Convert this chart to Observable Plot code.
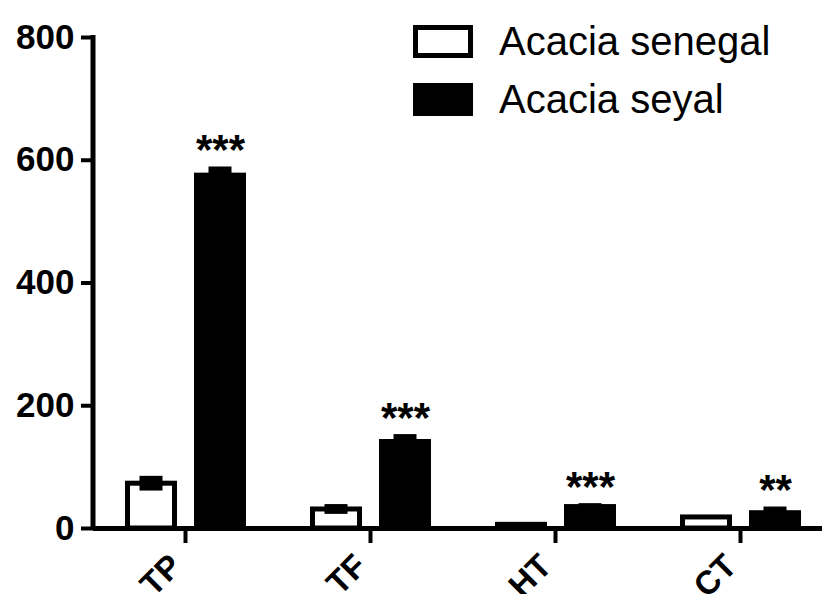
<!DOCTYPE html>
<html>
<head>
<meta charset="utf-8">
<script src="https://cdn.jsdelivr.net/npm/d3@7"></script>
<script src="https://cdn.jsdelivr.net/npm/@observablehq/plot@0.6"></script>
<style>
  body { margin: 0; background: white; }
  #wrap { position: relative; width: 822px; height: 594px; overflow: hidden; }
  #legend { position: absolute; left: 413px; top: 25px; font-family: "Liberation Sans", Arial, sans-serif; font-size: 40px; color: black; }
  .item { position: absolute; left: 0; white-space: nowrap; }
  .sw { position: absolute; left: 0; width: 60px; height: 33px; box-sizing: border-box; border: 5px solid black; }
  .lab { position: absolute; left: 86px; line-height: 40px; }
</style>
</head>
<body>
<div id="wrap"></div>
<script>
const categories = ["TP", "TF", "HT", "CT"];
const series = ["Acacia senegal", "Acacia seyal"];
const senegalMean = [73, 31, 6, 18];
const senegalErr = [12, 8, 1, 1];
const seyalMean = [579, 145, 39, 29];
const seyalErr = [10, 8, 1.5, 6];
const stars = ["***", "***", "***", "**"];
const yTicks = [0, 200, 400, 600, 800];

const senegal = categories.map((c, i) => ({cat: c, series: series[0], value: senegalMean[i], err: senegalErr[i]}));
const seyal = categories.map((c, i) => ({cat: c, series: series[1], value: seyalMean[i], err: seyalErr[i], star: stars[i]}));
const all = senegal.concat(seyal);

const plot = Plot.plot({
  width: 822,
  height: 594,
  marginLeft: 93,
  marginRight: -11,
  marginTop: 37,
  marginBottom: 66,
  style: {fontFamily: "Liberation Sans, Arial, sans-serif", background: "white", color: "black"},
  fx: {domain: categories, padding: 0, label: null},
  x: {domain: series, paddingInner: 0.246, paddingOuter: 0.46, axis: null},
  y: {domain: [0, 800], axis: null},
  marks: [
    Plot.barY(senegal, {fx: "cat", x: "series", y: "value", fill: "white", stroke: "black", strokeWidth: 5, insetLeft: 2.5, insetRight: 2.5}),
    Plot.barY(seyal, {fx: "cat", x: "series", y: "value", fill: "black"}),
    Plot.barY(all, {fx: "cat", x: "series", y1: d => d.value - d.err, y2: d => d.value + d.err, fill: "black", insetLeft: 14.5, insetRight: 14.5}),
    Plot.text(seyal, {fx: "cat", x: "series", y: d => d.value + d.err, text: "star", lineAnchor: "bottom", dy: -3, fontSize: 42, fontWeight: "bold", fill: "black"}),
    Plot.ruleY([0], {stroke: "black", strokeWidth: 5}),
    Plot.axisY({ticks: yTicks, tickSize: 12, tickPadding: 7, fontSize: 35, fontWeight: "bold", strokeWidth: 4, label: null}),
    Plot.axisFx({anchor: "bottom", tickRotate: -45, tickSize: 0, tickPadding: 32, dx: -10, fontSize: 33, fontWeight: "bold", label: null})
  ]
});

const ys = plot.scale("y");
const fxs = plot.scale("fx");
const svg = d3.select(plot);
// y-axis domain line
svg.append("line")
  .attr("x1", 93).attr("x2", 93)
  .attr("y1", ys.apply(800) - 2).attr("y2", ys.apply(0) + 2)
  .attr("stroke", "black").attr("stroke-width", 5);
// x-axis ticks at group centres
categories.forEach(c => {
  const cx = fxs.apply(c) + fxs.bandwidth / 2;
  svg.append("line")
    .attr("x1", cx).attr("x2", cx)
    .attr("y1", ys.apply(0)).attr("y2", ys.apply(0) + 15)
    .attr("stroke", "black").attr("stroke-width", 4);
});

const wrap = document.getElementById("wrap");
wrap.appendChild(plot);

const legend = document.createElement("div");
legend.id = "legend";
series.forEach((s, i) => {
  const item = document.createElement("div");
  item.className = "item";
  item.style.top = (i * 58) + "px";
  const sw = document.createElement("div");
  sw.className = "sw";
  sw.style.background = i === 0 ? "white" : "black";
  const lab = document.createElement("div");
  lab.className = "lab";
  lab.style.top = "-4px";
  lab.textContent = s;
  item.appendChild(sw);
  item.appendChild(lab);
  legend.appendChild(item);
});
wrap.appendChild(legend);
</script>
</body>
</html>
